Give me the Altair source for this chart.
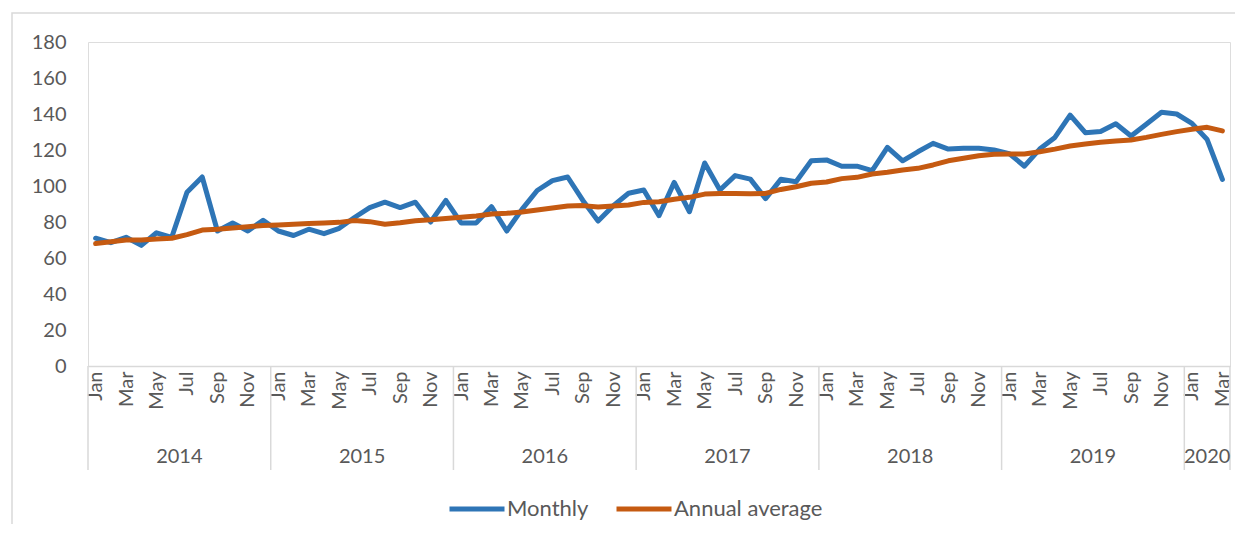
import json
import altair as alt
import pandas as pd

# ---- data ----
MONTHS = ["Jan", "Feb", "Mar", "Apr", "May", "Jun", "Jul", "Aug", "Sep", "Oct", "Nov", "Dec"]
YEARS = ["2014", "2015", "2016", "2017", "2018", "2019", "2020"]
MONTHS_PER_YEAR = [12, 12, 12, 12, 12, 12, 3]

monthly = [
    71, 68.5, 71.5, 67, 74, 71.5, 96.5, 105, 75, 79.5, 75, 81,            # 2014
    75, 72.5, 76, 73.5, 76.5, 82.5, 88, 91, 88, 91, 80, 92,                # 2015
    79.5, 79.5, 88.5, 75, 87, 97.5, 103, 105, 92, 80.5, 89, 96,            # 2016
    97.8, 83.5, 102, 85.7, 112.8, 97.8, 105.8, 103.8, 93, 103.7, 102.4, 114,  # 2017
    114.5, 111, 111, 108.5, 121.5, 114, 119, 123.7, 120.5, 121, 121, 120,  # 2018
    118, 111, 120.5, 127, 139.4, 129.6, 130.3, 134.6, 127.8, 134.3, 141, 140,  # 2019
    134.8, 125.8, 103.7,                                                   # 2020
]
annual_average = [
    68, 69, 70, 70, 70.5, 71, 73, 75.5, 76, 76.7, 77.4, 78,
    78.3, 78.7, 79.2, 79.5, 79.8, 80.8, 80.2, 78.8, 79.6, 80.7, 81.2, 82,
    82.6, 83.3, 84.4, 84.8, 85.6, 86.7, 87.8, 88.9, 89.1, 88.3, 88.9, 89.4,
    90.9, 91.3, 92.6, 93.7, 95.5, 95.9, 95.9, 95.7, 95.9, 98.1, 99.6, 101.5,
    102.2, 104.1, 104.8, 106.7, 107.6, 108.9, 109.8, 111.7, 114, 115.4, 116.8, 117.6,
    117.8, 117.8, 119, 120.5, 122.2, 123.3, 124.3, 125, 125.6, 127, 128.7, 130.2,
    131.5, 132.6, 130.6,
]
SERIES = ["Monthly", "Annual average"]
COLORS = ["#2E75B6", "#C55A11"]

# ---- tables ----
n = len(monthly)
rows = []
for name, vals in zip(SERIES, [monthly, annual_average]):
    for i, v in enumerate(vals):
        rows.append({"idx": i, "series": name, "value": v})
df = pd.DataFrame(rows)

starts = []
s = 0
for c in MONTHS_PER_YEAR:
    starts.append(s)
    s += c
year_df = pd.DataFrame({
    "year": YEARS,
    "center": [st - 0.5 + c / 2 for st, c in zip(starts, MONTHS_PER_YEAR)],
})
bounds_df = pd.DataFrame({"b": [st - 0.5 for st in starts] + [n - 0.5]})

FONT = "Lato"
TXT = "#595959"
GRID = "#d9d9d9"
W, H = 1142, 324

xscale = alt.Scale(domain=[-0.5, n - 0.5], nice=False, zero=False)


def xaxis():
    return alt.Axis(values=list(range(0, n, 2)),
                    labelExpr=f"{json.dumps(MONTHS)}[datum.value % 12]",
                    labelAngle=-90, labelPadding=5, ticks=False, tickSize=0,
                    grid=False, domainColor=GRID, domainWidth=1.5,
                    labelFontSize=20, labelColor=TXT, labelFont=FONT,
                    labelOverlap=False, labelFlush=False, labelBound=False,
                    title=None)


lines = alt.Chart(df).mark_line(strokeWidth=5, strokeCap="round", strokeJoin="round").encode(
    x=alt.X("idx:Q", scale=xscale, title=None, axis=xaxis()),
    y=alt.Y("value:Q", scale=alt.Scale(domain=[0, 180], nice=False), title=None,
            axis=alt.Axis(values=list(range(0, 181, 20)), grid=False, domain=False,
                          ticks=False, labelPadding=22, labelFontSize=20,
                          labelColor=TXT, labelFont=FONT)),
    color=alt.Color("series:N", sort=SERIES,
                    scale=alt.Scale(domain=SERIES, range=COLORS),
                    legend=alt.Legend(title=None, orient="none", direction="horizontal",
                                      legendX=359, legendY=437,
                                      symbolType="stroke", symbolSize=3025,
                                      symbolStrokeWidth=5, labelFontSize=22,
                                      labelFont=FONT, labelColor=TXT, labelOffset=0,
                                      columnPadding=17)),
    order=alt.Order("idx:Q"),
)

seps = alt.Chart(bounds_df).mark_rule(color=GRID, strokeWidth=1.5).encode(
    x=alt.X("b:Q", scale=xscale, title=None, axis=xaxis()),
    y=alt.value(H),
    y2=alt.value(H + 104),
)

year_text = alt.Chart(year_df).mark_text(fontSize=20, font=FONT, color=TXT, baseline="middle").encode(
    x=alt.X("center:Q", scale=xscale, title=None, axis=xaxis()),
    y=alt.value(H + 91),
    text="year:N",
)

border = alt.Chart(pd.DataFrame({"k": [0]})).mark_rect(
    fillOpacity=0, stroke=GRID, strokeWidth=1.5
).encode(
    x=alt.value(-76), x2=alt.value(W + 40), y=alt.value(-29), y2=alt.value(H + 200)
)

chart = alt.layer(lines, seps, year_text, border).properties(
    width=W, height=H,
    autosize=alt.AutoSizeParams(type="none"),
    padding={"left": 80, "top": 34, "right": 5, "bottom": 158},
).configure_view(stroke=None).configure(font=FONT)

chart.save("out.html", embed_options={"renderer": "svg", "actions": False})
